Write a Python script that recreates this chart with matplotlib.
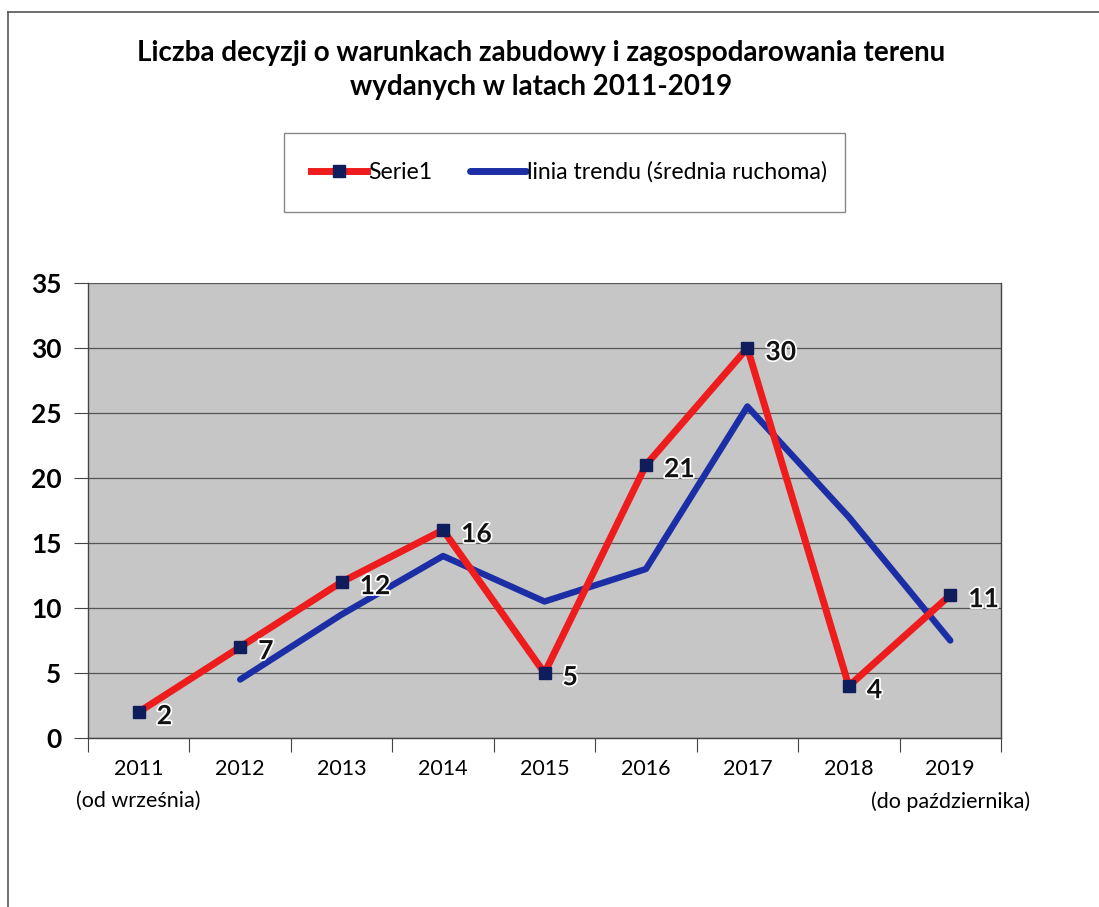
import numpy as np
import matplotlib.pyplot as plt
import matplotlib as mpl
import matplotlib.patheffects as pe
from matplotlib.lines import Line2D
from matplotlib.patches import Rectangle

mpl.rcParams['font.family'] = ['Lato', 'DejaVu Sans']

# data
years = ['2011\n(od września)', '2012', '2013', '2014', '2015', '2016', '2017', '2018',
         '2019\n(do października)']
decisions = [2, 7, 12, 16, 5, 21, 30, 4, 11]
# moving average (2 periods), starts at 2012
trend_years = [1, 2, 3, 4, 5, 6, 7, 8]
trend_values = [4.5, 9.5, 14, 10.5, 13, 25.5, 17, 7.5]
y_ticks = [0, 5, 10, 15, 20, 25, 30, 35]

red = '#ee1c1c'
blue = '#1c2ea6'
navy = '#101d5c'

fig = plt.figure(figsize=(10.99, 9.07), dpi=100)
ax = fig.add_axes([88/1099, 169/907, 913/1099, 455/907])
ax.set_facecolor('#c6c6c6')

x = np.arange(len(years))
ax.plot(trend_years, trend_values, color=blue, lw=4.6, solid_capstyle='round', zorder=3)
ax.plot(x, decisions, color=red, lw=5.0, zorder=4, marker='s', markersize=9,
        markerfacecolor=navy, markeredgecolor=navy)

for xi, v in zip(x, decisions):
    ax.annotate(str(v), (xi, v), xytext=(13, -3), textcoords='offset points',
                ha='left', va='center', fontsize=19, fontweight='bold', color='#111111',
                path_effects=[pe.withStroke(linewidth=2.5, foreground='white')],
                zorder=6, annotation_clip=False, clip_on=True)

ax.set_xlim(-0.5, 8.5)
ax.set_ylim(0, 35)
ax.set_yticks(y_ticks)
ax.set_yticklabels([str(t) for t in y_ticks], fontsize=19, fontweight='bold')
ax.yaxis.grid(True, color='#555555', lw=0.9)
ax.set_axisbelow(True)

ax.set_xticks(np.arange(-0.5, 9, 1))
ax.set_xticklabels([])
ax.set_xticks(x, minor=True)
ax.set_xticklabels(years, minor=True, fontsize=15.5, linespacing=1.75)
ax.tick_params(axis='x', which='minor', length=0, pad=15)
ax.tick_params(axis='x', which='major', length=10, color='#444444')
ax.tick_params(axis='y', length=10, color='#444444', pad=9)
for s in ax.spines.values():
    s.set_color('#444444')
    s.set_linewidth(1.0)
ax.spines['top'].set_visible(False)

fig.suptitle('Liczba decyzji o warunkach zabudowy i zagospodarowania terenu\nwydanych w latach 2011-2019',
             x=541/1099, y=1 - 40/907, va='top', fontsize=20, fontweight='bold', linespacing=1.4)

# legend box
fig.patches.append(Rectangle((284/1099, 695/907), 561/1099, 79/907, transform=fig.transFigure,
                             facecolor='white', edgecolor='#888888', lw=1.0))
handles = [Line2D([], [], color=red, lw=5, marker='s', markersize=9,
                  markerfacecolor=navy, markeredgecolor=navy),
           Line2D([], [], color=blue, lw=5, solid_capstyle='round')]
fig.legend(handles, ['Serie1', 'linia trendu (średnia ruchoma)'], loc='center',
           bbox_to_anchor=(569/1099, 1 - 172/907), ncol=2, frameon=False, fontsize=16.6,
           handlelength=2.45, handletextpad=0.05, columnspacing=1.6)

# outer frame lines (top and left)
fig.lines.append(Line2D([8/1099, 1], [1 - 12/907, 1 - 12/907], transform=fig.transFigure,
                        color='#555555', lw=1.2))
fig.lines.append(Line2D([8/1099, 8/1099], [0, 1 - 12/907], transform=fig.transFigure,
                        color='#555555', lw=1.2))

fig.savefig('out.png', dpi=100)
